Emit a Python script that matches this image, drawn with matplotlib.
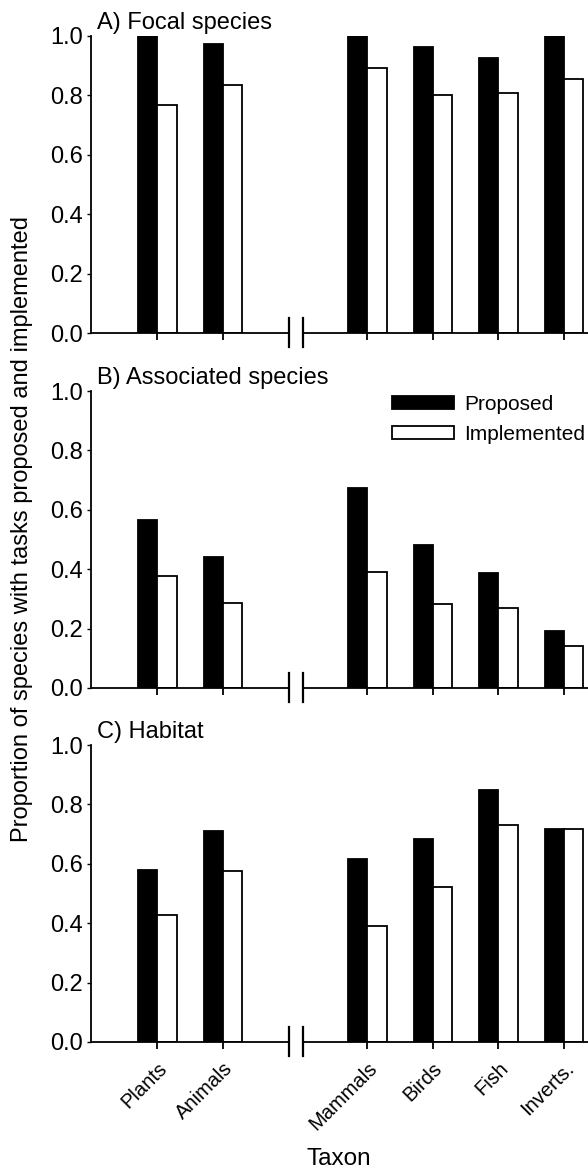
import numpy as np
import matplotlib
matplotlib.use("Agg")
import matplotlib.pyplot as plt

plt.rcParams['font.family'] = ['Liberation Sans', 'DejaVu Sans']

# -----------------------------
# data
# -----------------------------
taxa = ["Plants", "Animals", "Mammals", "Birds", "Fish", "Inverts."]
panel_titles = ["A) Focal species", "B) Associated species", "C) Habitat"]

focal_proposed = [1.00, 0.972, 1.00, 0.964, 0.925, 1.00]
focal_implemented = [0.767, 0.835, 0.891, 0.801, 0.808, 0.856]

assoc_proposed = [0.565, 0.440, 0.672, 0.483, 0.387, 0.191]
assoc_implemented = [0.378, 0.285, 0.391, 0.282, 0.269, 0.142]

habitat_proposed = [0.579, 0.711, 0.616, 0.684, 0.848, 0.716]
habitat_implemented = [0.428, 0.577, 0.392, 0.523, 0.731, 0.716]

yticks = [0.0, 0.2, 0.4, 0.6, 0.8, 1.0]

# x layout: two groups separated by an axis break
xpos = np.array([0, 1, 3.19, 4.18, 5.18, 6.18])
bar_w = 0.29
break_at = (2.0, 2.21)
xlim = (-1.01, 6.54)

FS = 17
LW = 1.3

fig = plt.figure(figsize=(5.88, 11.69), dpi=100)

# axes boxes in figure fraction [left, bottom, width, height]
left = 91 / 588
width = 1 - left
boxes = [
    [left, 1 - 333 / 1169, width, 297 / 1169],
    [left, 1 - 688 / 1169, width, 297 / 1169],
    [left, 1 - 1042 / 1169, width, 297 / 1169],
]

series = [
    (focal_proposed, focal_implemented),
    (assoc_proposed, assoc_implemented),
    (habitat_proposed, habitat_implemented),
]

axes = []
for i, (box, (prop, impl)) in enumerate(zip(boxes, series)):
    ax = fig.add_axes(box)
    axes.append(ax)
    ax.bar(xpos - bar_w / 2, prop, width=bar_w, color="black",
           edgecolor="black", linewidth=LW, label="Proposed")
    ax.bar(xpos + bar_w / 2, impl, width=bar_w, color="white",
           edgecolor="black", linewidth=LW, label="Implemented")

    ax.set_xlim(*xlim)
    ax.set_ylim(0, 1.0)
    ax.set_yticks(yticks)
    ax.set_yticklabels([f"{v:.1f}" for v in yticks], fontsize=FS)
    ax.set_xticks(xpos)
    if i == 2:
        ax.set_xticklabels(taxa, fontsize=14.5, rotation=45, ha="right",
                           rotation_mode="anchor")
    else:
        ax.set_xticklabels([])

    for s in ["top", "right", "bottom"]:
        ax.spines[s].set_visible(False)
    ax.spines["left"].set_linewidth(LW)
    ax.tick_params(axis="y", direction="out", length=3, width=1.0, pad=3)
    ax.tick_params(axis="x", direction="out", length=5, width=1.3, pad=7)

    # broken x axis
    ax.plot([xlim[0], break_at[0]], [0, 0], color="black", lw=LW,
            clip_on=False, solid_capstyle="butt", zorder=3)
    ax.plot([break_at[1], xlim[1]], [0, 0], color="black", lw=LW,
            clip_on=False, solid_capstyle="butt", zorder=3)
    for bx in break_at:
        ax.plot([bx, bx], [-0.048, 0.05], color="black", lw=1.6,
                clip_on=False, zorder=3)

    ax.text(6 / 497, 1 + 7 / 297, panel_titles[i], transform=ax.transAxes,
            fontsize=FS, ha="left", va="baseline")

# legend in panel B
leg = axes[1].legend(loc="upper left", bbox_to_anchor=(0.6056, 0.9855),
                     frameon=False, fontsize=15, handlelength=2.98,
                     handleheight=0.58, handletextpad=0.5, borderpad=0,
                     borderaxespad=0, labelspacing=0.52)

fig.text(339 / 588, 1 - 1165 / 1169, "Taxon", fontsize=17.5,
         ha="center", va="baseline")
fig.text(22 / 588, 1 - 529 / 1169,
         "Proportion of species with tasks proposed and implemented",
         rotation=90, fontsize=FS, ha="center", va="center")

fig.savefig("out.png", dpi=100)
